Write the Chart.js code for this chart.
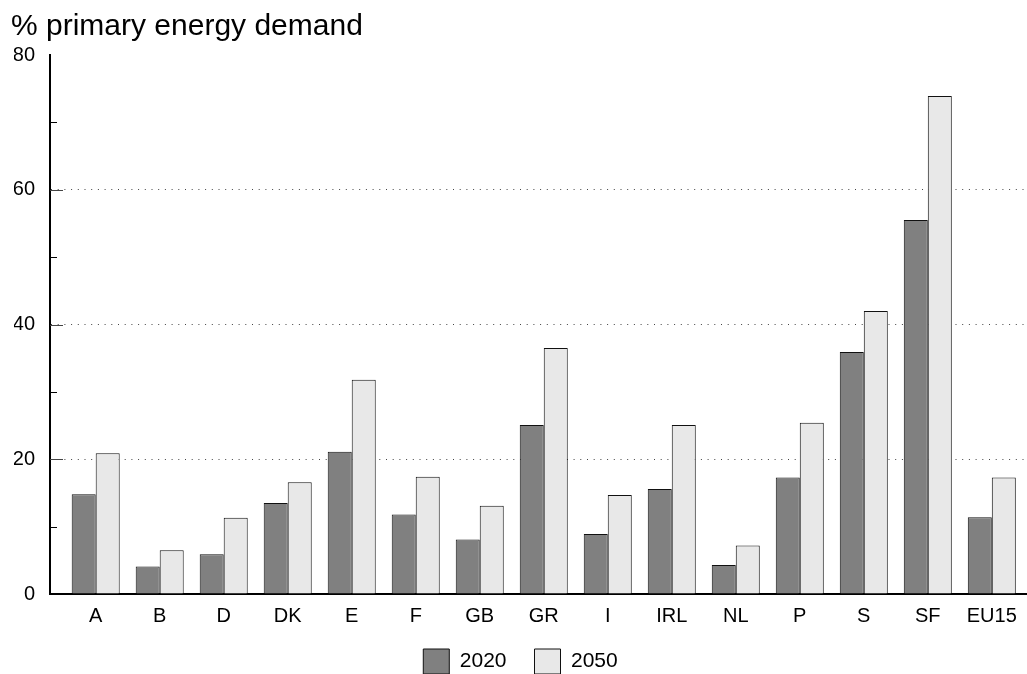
<!DOCTYPE html>
<html>
<head>
<meta charset="utf-8">
<script src="https://cdn.jsdelivr.net/npm/chart.js@4/dist/chart.umd.min.js"></script>
<style>
  html, body { margin: 0; padding: 0; background: #fff; }
  #wrap { width: 1027px; height: 674px; }
</style>
</head>
<body>
<div id="wrap"><canvas id="c" width="1027" height="674"></canvas></div>
<script>
// Renewable share of primary energy demand by country
const countries = ['A', 'B', 'D', 'DK', 'E', 'F', 'GB', 'GR', 'I', 'IRL', 'NL', 'P', 'S', 'SF', 'EU15'];
const share2020 = [14.8, 4.1, 5.9, 13.5, 21.1, 11.8, 8.1, 25.1, 8.9, 15.6, 4.3, 17.3, 35.9, 55.5, 11.4];
const share2050 = [20.9, 6.5, 11.3, 16.6, 31.8, 17.4, 13.1, 36.5, 14.7, 25.1, 7.2, 25.4, 42.0, 73.9, 17.3];
const yTicks = [0, 20, 40, 60, 80];

const FONT = "'Liberation Sans', Arial, Helvetica, sans-serif";

const toPoints = arr => arr.map((v, i) => ({ x: i, y: v }));

// Heading above the value axis
const headingPlugin = {
  id: 'heading',
  afterDraw(chart) {
    const ctx = chart.ctx;
    ctx.save();
    ctx.fillStyle = '#000';
    ctx.font = '30px ' + FONT;
    ctx.textAlign = 'left';
    ctx.textBaseline = 'alphabetic';
    ctx.fillText('% primary energy demand', 11, 35);
    ctx.restore();
  }
};

// Tick marks pointing into the plot from the value axis
const innerTicksPlugin = {
  id: 'innerTicks',
  afterDraw(chart) {
    const y = chart.scales.y;
    const ctx = chart.ctx;
    const left = chart.chartArea.left;
    ctx.save();
    ctx.lineWidth = 1;
    for (let v = 10; v < 80; v += 10) {
      const major = v % 20 === 0;
      const py = Math.round(y.getPixelForValue(v)) + 0.5;
      ctx.strokeStyle = major ? '#444' : '#000';
      ctx.beginPath();
      ctx.moveTo(left, py);
      ctx.lineTo(left + (major ? 13 : 7), py);
      ctx.stroke();
    }
    ctx.restore();
  }
};

// The category axis is kept short so the legend sits close beneath it;
// let its labels draw past that short box instead of being clipped.
const axisLabelRoomPlugin = {
  id: 'axisLabelRoom',
  afterLayout(chart) {
    chart.scales.x.bottom = chart.height;
  }
};

new Chart(document.getElementById('c'), {
  type: 'bar',
  data: {
    datasets: [
      {
        label: '2020',
        data: toPoints(share2020),
        backgroundColor: '#808080',
        borderColor: '#111',
        borderWidth: 1,
        categoryPercentage: 0.75,
        barPercentage: 1.0
      },
      {
        label: '2050',
        data: toPoints(share2050),
        backgroundColor: '#e8e8e8',
        borderColor: '#111',
        borderWidth: 1,
        categoryPercentage: 0.75,
        barPercentage: 1.0
      }
    ]
  },
  options: {
    responsive: false,
    animation: false,
    devicePixelRatio: 1,
    layout: { padding: { top: 55, right: 0, bottom: -10, left: 14 } },
    plugins: {
      title: { display: false },
      tooltip: { enabled: false },
      legend: {
        position: 'bottom',
        labels: {
          boxWidth: 26,
          boxHeight: 25,
          padding: 28,
          color: '#000',
          font: { family: FONT, size: 21 }
        }
      }
    },
    scales: {
      x: {
        type: 'linear',
        offset: false,
        min: -0.714,
        max: 14.55,
        afterBuildTicks: s => { s.ticks = countries.map((_, i) => ({ value: i })); },
        afterFit: s => { s.height = 27; },
        ticks: {
          autoSkip: false,
          maxRotation: 0,
          padding: 10,
          color: '#000',
          font: { family: FONT, size: 20 },
          callback: v => countries[v] ?? ''
        },
        grid: { display: false, drawTicks: false, offset: false },
        border: { display: true, color: '#000', width: 2 }
      },
      y: {
        min: 0,
        max: 80,
        afterBuildTicks: s => {
          const t = [];
          for (let v = 0; v <= 80; v += 10) t.push({ value: v });
          s.ticks = t;
        },
        afterFit: s => { s.width = 36; },
        ticks: {
          padding: 15,
          color: '#000',
          font: { family: FONT, size: 20 },
          callback: v => yTicks.includes(v) ? String(v) : ''
        },
        grid: {
          drawTicks: false,
          lineWidth: 1,
          color: c => (c.tick && c.tick.value % 20 === 0 && c.tick.value > 0 && c.tick.value < 80) ? '#444' : 'rgba(0,0,0,0)'
        },
        border: { display: true, color: '#000', width: 2, dash: [1, 5.7] }
      }
    }
  },
  plugins: [headingPlugin, innerTicksPlugin, axisLabelRoomPlugin]
});
</script>
</body>
</html>
